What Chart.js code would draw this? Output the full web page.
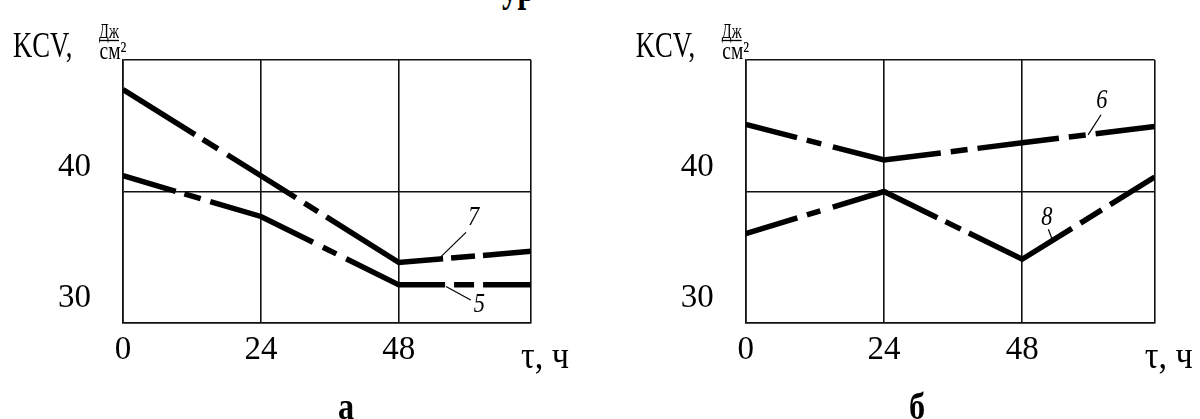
<!DOCTYPE html>
<html><head><meta charset="utf-8">
<script src="https://cdn.jsdelivr.net/npm/chart.js@4.4.1/dist/chart.umd.min.js"></script>
<style>
html,body{margin:0;padding:0;background:#fff;width:1200px;height:419px;overflow:hidden;position:relative;font-family:"Liberation Serif","Times New Roman",serif;}
canvas{position:absolute;top:0;}
#cA{left:0;} #cB{left:600px;}
.cap{position:absolute;font-weight:bold;line-height:1;color:#000;white-space:nowrap;}
#title{font-size:40px;left:502px;top:-32px;transform:scaleX(0.78);transform-origin:left top;}
#capA{font-size:38px;left:346px;top:387px;transform:translateX(-50%) scaleX(0.85);}
#capB{font-size:38px;left:917px;top:387px;transform:translateX(-50%) scaleX(0.85);}
</style></head><body>
<div class="cap" id="title">ур</div>
<canvas id="cA" width="600" height="419"></canvas>
<canvas id="cB" width="600" height="419"></canvas>
<div class="cap" id="capA">а</div>
<div class="cap" id="capB">б</div>
<script>
// ---- data ----
const hours = [0, 24, 48, 71];
const kcv5 = [41.2, 38.1, 32.9, 32.9];
const kcv7 = [47.75, 41.2, 34.6, 35.45];
const kcv6 = [45.1, 42.4, 43.7, 44.95];
const kcv8 = [36.8, 40.0, 34.85, 41.1];
const xTicks = [0, 24, 48];
const yTicks = [30, 40];
const xMax = 71;
const yMin = 30;
const yMax = 50;
const yTitle = 'KCV,';
const unitNum = 'Дж';
const unitDen = 'см²';
const xTitle = 'τ, ч';

// ---- styles ----
const FONT = '"Liberation Serif", "Times New Roman", serif';
const INK = '#111';
const dash7 = [85, 9, 18, 11, 81, 10, 16, 10, 130, 8, 24, 8, 400, 0];
const dash5 = [55, 9, 17, 10, 111, 11, 15, 11, 105, 9, 20, 9, 400, 0];
const dash6 = [53, 10, 15, 12, 110, 10, 17, 10, 82, 10, 17, 10, 400, 0];
const dash8 = [54, 10, 14, 13, 113, 9, 17, 9, 118, 10, 25, 10, 400, 0];

const pts = arr => hours.map((h, i) => ({x: h, y: arr[i]}));
const ds = (label, arr, dash) => ({
  label, data: pts(arr), borderColor: '#000', borderWidth: 5.5,
  borderDash: dash, borderCapStyle: 'butt', borderJoinStyle: 'miter',
  pointRadius: 0, tension: 0, fill: false
});

function textS(ctx, s, x, y, sx) {
  ctx.save();
  ctx.translate(x, y);
  ctx.scale(sx, 1);
  ctx.fillText(s, 0, 0);
  ctx.restore();
}

const panelText = {
  id: 'panelText',
  afterDraw(chart, args, opts) {
    const {ctx, chartArea: a, scales: {x, y}} = chart;
    ctx.save();
    ctx.fillStyle = '#000';
    ctx.strokeStyle = '#000';
    ctx.textBaseline = 'alphabetic';
    // y title
    ctx.textAlign = 'left';
    ctx.font = '36px ' + FONT;
    textS(ctx, yTitle, a.left - 110, a.top - 3, 0.74);
    ctx.textAlign = 'center';
    ctx.font = '20px ' + FONT;
    textS(ctx, unitNum, a.left - 14, a.top - 22, 0.72);
    ctx.font = '25px ' + FONT;
    textS(ctx, unitDen, a.left - 10, a.top - 1, 0.78);
    ctx.lineWidth = 1.3;
    ctx.beginPath();
    ctx.moveTo(a.left - 24, a.top - 19.5);
    ctx.lineTo(a.left - 4, a.top - 19.5);
    ctx.stroke();
    // x title
    ctx.textAlign = 'left';
    ctx.font = '38px ' + FONT;
    textS(ctx, xTitle, a.right - 10, a.bottom + 45, 0.9);
    // curve labels
    ctx.lineWidth = 1.2;
    ctx.font = 'italic 28px ' + FONT;
    ctx.textAlign = 'center';
    (opts.notes || []).forEach(n => {
      const fx = x.getPixelForValue(n.from[0]), fy = y.getPixelForValue(n.from[1]);
      const tx = x.getPixelForValue(n.to[0]), ty = y.getPixelForValue(n.to[1]);
      ctx.beginPath(); ctx.moveTo(fx, fy); ctx.lineTo(tx, ty); ctx.stroke();
      textS(ctx, n.text, tx + n.dx, ty + n.dy, 0.8);
    });
    ctx.restore();
  }
};

function makeChart(id, datasets, padL, padR, notes) {
  return new Chart(document.getElementById(id), {
    type: 'line',
    data: {datasets},
    options: {
      responsive: false, animation: false, devicePixelRatio: 1,
      layout: {padding: {left: padL, right: padR, top: 60, bottom: 56}},
      plugins: {legend: {display: false}, tooltip: {enabled: false}, panelText: {notes}},
      scales: {
        x: {
          type: 'linear', min: 0, max: xMax,
          afterBuildTicks: s => { s.ticks = [...xTicks, xMax].map(value => ({value})); },
          afterFit: s => { s.height = 40; },
          grid: {color: INK, lineWidth: 1.6, drawTicks: false},
          border: {display: true, color: INK, width: 1.6},
          ticks: {
            color: '#000', padding: 8, maxRotation: 0, autoSkip: false,
            font: {family: FONT, size: 33},
            callback: v => xTicks.includes(v) ? String(v) : ''
          }
        },
        y: {
          type: 'linear', min: yMin, max: yMax,
          afterBuildTicks: s => { s.ticks = [...yTicks, yMax].map(value => ({value})); },
          afterFit: s => { s.width = 123; },
          grid: {color: INK, lineWidth: 1.6, drawTicks: false},
          border: {display: true, color: INK, width: 1.6},
          ticks: {
            color: '#000', padding: 32, labelOffset: -24.5, autoSkip: false,
            font: {family: FONT, size: 33},
            callback: v => yTicks.includes(v) ? String(v) : ''
          }
        }
      }
    },
    plugins: [panelText]
  });
}

makeChart('cA', [ds('7', kcv7, dash7), ds('5', kcv5, dash5)], 0, 69, [
  {text: '7', from: [55.34, 35.05], to: [59.69, 36.89], dx: 7.6, dy: -7.5},
  {text: '5', from: [56.21, 32.78], to: [60.51, 31.75], dx: 8.6, dy: 12}
]);
makeChart('cB', [ds('6', kcv6, dash6), ds('8', kcv8, dash8)], 22.7, 45.3, [
  {text: '6', from: [59.44, 44.31], to: [61.69, 45.84], dx: 0.9, dy: -7},
  {text: '8', from: [53.13, 36.45], to: [52.54, 37.13], dx: -1.6, dy: -4.3}
]);
</script>
</body></html>
